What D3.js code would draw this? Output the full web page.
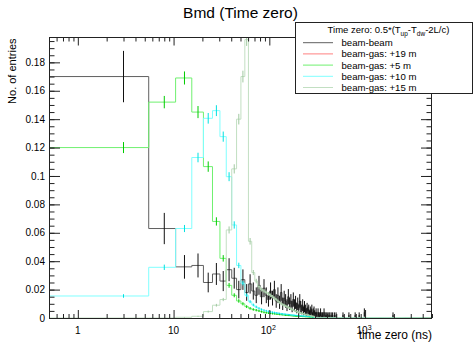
<!DOCTYPE html>
<html>
<head>
<meta charset="utf-8">
<script src="https://cdn.jsdelivr.net/npm/d3@7"></script>
<style>
  body { margin: 0; background: #fff; }
  svg { font-family: "Liberation Sans", Arial, Helvetica, sans-serif; }
</style>
</head>
<body>
<svg id="chart" width="475" height="344"></svg>
<script>
// histogram binning (ns)
var binStart = 0.5;
var binWidth = 5;
var nBins = 1000;

// bin contents, first bins from 0.5 ns on (normalised to 1)
var beamBeam = [0.170, 0.063, 0.036, 0.037, 0.025, 0.031, 0.026, 0.034, 0.028, 0.020,
  0.027, 0.018, 0.024, 0.019, 0.016, 0.023, 0.015, 0.021, 0.016, 0.013,
  0.019, 0.014, 0.020, 0.012, 0.016, 0.011, 0.018, 0.010, 0.014, 0.012,
  0.009, 0.015, 0.010, 0.012, 0.008, 0.013, 0.009, 0.011, 0.007, 0.010,
  0.006, 0.012, 0.008, 0.006, 0.009, 0.005, 0.008, 0.006, 0.004, 0.007,
  0.005, 0.006, 0.003, 0.005, 0.004, 0.006, 0.002, 0.004, 0.005, 0.003,
  0.002, 0.004, 0.002, 0, 0.004, 0.002, 0.002, 0, 0.004, 0.002,
  0, 0.002, 0.002, 0, 0.004, 0, 0.002, 0, 0.002, 0,
  0.002, 0, 0, 0.002, 0, 0.002, 0, 0, 0.002, 0,
  0, 0.002, 0, 0, 0, 0.002, 0, 0, 0, 0.002];
// isolated late entries: [bin centre, content]
var beamBeamTail = [[588, 0.002], [678, 0.002], [788, 0.002], [868, 0.002], [983, 0.004], [1958, 0.002]];

var gas19 = [];

var gas5 = [0.120, 0.152, 0.169, 0.145, 0.1066, 0.068, 0.042, 0.023, 0.016, 0.012,
  0.010, 0.008, 0.0068, 0.006, 0.0055, 0.005, 0.0045, 0.004, 0.0037, 0.0035,
  0.0033, 0.0031, 0.003, 0.0028, 0.0027, 0.0025, 0.0024, 0.0023, 0.0022, 0.002,
  0.0019, 0.0018, 0.0018, 0.0017, 0.0016, 0.0015, 0.0015, 0.0014, 0.0013, 0.0013,
  0.0012, 0.0012, 0.0011, 0.0011, 0.001, 0.001, 0.001, 0.0009, 0.0009, 0.0009,
  0.0008, 0.0008, 0.0008, 0.0007, 0.0007, 0.0007, 0.0007, 0.0006, 0.0006, 0.0006];

var gas10 = [0.0155, 0.0357, 0.063, 0.113, 0.1406, 0.146, 0.1277, 0.0995, 0.0655, 0.037,
  0.0245, 0.016, 0.0115, 0.0092, 0.0078, 0.0068, 0.006, 0.0054, 0.005, 0.0046,
  0.0043, 0.004, 0.0038, 0.0036, 0.0034, 0.0032, 0.003, 0.0029, 0.0027, 0.0026,
  0.0025, 0.0024, 0.0023, 0.0022, 0.0021, 0.002, 0.0019, 0.0018, 0.0018, 0.0017,
  0.0016, 0.0016, 0.0015, 0.0015, 0.0014, 0.0014, 0.0013, 0.0013, 0.0012, 0.0012,
  0.0011, 0.0011, 0.001, 0.001, 0.0009, 0.0009, 0.0008, 0.0008, 0.0007, 0.0007];

var gas15 = [0, 0, 0.0005, 0.0012, 0.0045, 0.009, 0.013, 0.062, 0.105, 0.140,
  0.170, 0.196, 0.054, 0.032, 0.026, 0.022, 0.020, 0.019, 0.018, 0.017,
  0.016, 0.015, 0.014, 0.013, 0.012, 0.011, 0.010, 0.0095, 0.009, 0.0085,
  0.008, 0.0075, 0.007, 0.0065, 0.006, 0.0056, 0.0052, 0.0048, 0.0045, 0.0042,
  0.004, 0.0037, 0.0035, 0.0033, 0.0031, 0.0029, 0.0027, 0.0025, 0.0024, 0.0022,
  0.002, 0.0019, 0.0018, 0.0016, 0.0015, 0.0014, 0.0013, 0.0012, 0.0011, 0.001];

// number of entries of each histogram (for the error bars)
var beamBeamEntries = 520;
var gas5Entries = 8000;
var gas10Entries = 10000;
var gas15Entries = 10000;
var gas19Entries = 1;

var legendNames = ["beam-beam", "beam-gas: +19 m", "beam-gas: +5 m", "beam-gas: +10 m", "beam-gas: +15 m"];

var xMajor = [1, 10, 100, 1000];
var yMax = 0.1975;

// ---------------------------------------------------------------
var svg = d3.select("#chart");
var padL = 49, padR = 432, padT = 37.5, padB = 318;

var x = d3.scaleLog().domain([binStart, binStart + nBins * binWidth]).range([padL, padR]);
var y = d3.scaleLinear().domain([0, yMax]).range([padB, padT]);

// full bin list for a series
function fullBins(vals, tail) {
  var out = [];
  for (var i = 0; i < nBins; i++) out.push(i < vals.length ? vals[i] : 0);
  (tail || []).forEach(function(t) {
    var k = Math.floor((t[0] - binStart) / binWidth);
    out[k] = t[1];
  });
  return out;
}

var series = [
  {name: legendNames[0], bins: fullBins(beamBeam, beamBeamTail), n: beamBeamEntries, line: "#606060", err: "#111"},
  {name: legendNames[1], bins: fullBins(gas19), n: gas19Entries, line: "#ff8080", err: "#f00", empty: true},
  {name: legendNames[2], bins: fullBins(gas5), n: gas5Entries, line: "#70f070", err: "#00cc00"},
  {name: legendNames[3], bins: fullBins(gas10), n: gas10Entries, line: "#80ffff", err: "#00e0e0"},
  {name: legendNames[4], bins: fullBins(gas15), n: gas15Entries, line: "#c2dfc2", err: "#a0c8a0"}
];

svg.append("clipPath").attr("id", "plotClip")
  .append("rect").attr("x", padL).attr("y", padT).attr("width", padR - padL).attr("height", padB - padT);

var stepLine = d3.line()
  .x(function(d) { return x(d[0]); })
  .y(function(d) { return y(d[1]); })
  .curve(d3.curveStepAfter);

var plot = svg.append("g").attr("clip-path", "url(#plotClip)");

series.forEach(function(s) {
  if (s.empty) return;
  var pts = [[binStart, 0]];
  s.bins.forEach(function(v, i) { pts.push([binStart + i * binWidth, v]); });
  pts.push([binStart + nBins * binWidth, s.bins[nBins - 1]]);
  pts.push([binStart + nBins * binWidth, 0]);

  plot.append("path")
    .attr("d", stepLine(pts))
    .attr("fill", "none")
    .attr("stroke", s.line)
    .attr("stroke-width", 1);

  var errs = s.bins.map(function(v, i) { return {c: binStart + (i + 0.5) * binWidth, v: v}; })
    .filter(function(d) { return d.v > 0; });

  plot.selectAll(null)
    .data(errs)
    .enter()
    .append("line")
    .attr("x1", function(d) { return x(d.c); })
    .attr("x2", function(d) { return x(d.c); })
    .attr("y1", function(d) { return y(d.v + Math.sqrt(d.v / s.n)); })
    .attr("y2", function(d) { return y(Math.max(0, d.v - Math.sqrt(d.v / s.n))); })
    .attr("stroke", s.err)
    .attr("stroke-width", 1);
});

// axes -------------------------------------------------------------
var yMajor = d3.range(0, 0.19, 0.02);
var yMinor = d3.range(0, yMax, 0.005);

var xMinor = [];
[0.1, 1, 10, 100, 1000].forEach(function(d) {
  for (var k = 2; k <= 9; k++) {
    var v = d * k;
    if (v > binStart && v < binStart + nBins * binWidth) xMinor.push(v);
  }
});

function noDomain(g) { g.select(".domain").remove(); g.selectAll("line").attr("stroke", "#222"); }

// left
svg.append("g").attr("transform", "translate(" + padL + ",0)")
  .call(d3.axisLeft(y).tickValues(yMinor).tickSize(-5.5).tickFormat(""))
  .call(noDomain);
svg.append("g").attr("transform", "translate(" + padL + ",0)")
  .call(d3.axisLeft(y).tickValues(yMajor).tickSize(-11).tickPadding(4)
    .tickFormat(function(d) { return d === 0 ? "0" : String(+d.toFixed(2)); }))
  .call(noDomain)
  .selectAll("text").attr("font-size", "10px").attr("fill", "#000")
  .attr("font-family", "'Liberation Sans', Arial, sans-serif");
// right
svg.append("g").attr("transform", "translate(" + padR + ",0)")
  .call(d3.axisRight(y).tickValues(yMinor).tickSize(-5.5).tickFormat(""))
  .call(noDomain);
svg.append("g").attr("transform", "translate(" + padR + ",0)")
  .call(d3.axisRight(y).tickValues(yMajor).tickSize(-11).tickFormat(""))
  .call(noDomain);

// bottom
svg.append("g").attr("transform", "translate(0," + padB + ")")
  .call(d3.axisBottom(x).tickValues(xMinor).tickSize(-4).tickFormat(""))
  .call(noDomain);
svg.append("g").attr("transform", "translate(0," + padB + ")")
  .call(d3.axisBottom(x).tickValues(xMajor).tickSize(-8).tickFormat(""))
  .call(noDomain);
// top
svg.append("g").attr("transform", "translate(0," + padT + ")")
  .call(d3.axisTop(x).tickValues(xMinor).tickSize(-4).tickFormat(""))
  .call(noDomain);
svg.append("g").attr("transform", "translate(0," + padT + ")")
  .call(d3.axisTop(x).tickValues(xMajor).tickSize(-8).tickFormat(""))
  .call(noDomain);

// log labels 1, 10, 10^2, 10^3
xMajor.forEach(function(v) {
  var p = Math.round(Math.log10(v));
  var t = svg.append("text")
    .attr("y", 334)
    .attr("font-size", "10px")
    .attr("fill", "#000");
  if (p <= 1) {
    t.attr("x", x(v)).attr("text-anchor", "middle").text(p === 0 ? "1" : "10");
  } else {
    t.attr("x", x(v) - 8.5).attr("text-anchor", "start");
    t.append("tspan").text("10");
    t.append("tspan").attr("font-size", "7px").attr("dy", "-4.5").text(p);
  }
});

// frame
svg.append("rect")
  .attr("x", padL + 0.5).attr("y", padT).attr("width", padR - padL - 1).attr("height", padB - padT + 0.5)
  .attr("fill", "none").attr("stroke", "#222").attr("stroke-width", 1);

// titles
svg.append("text")
  .attr("x", 240.5).attr("y", 18)
  .attr("text-anchor", "middle")
  .attr("font-size", "15.5px")
  .text("Bmd (Time zero)");

svg.append("text")
  .attr("x", padR).attr("y", 339)
  .attr("text-anchor", "end")
  .attr("font-size", "12px")
  .text("time zero (ns)");

svg.append("text")
  .attr("transform", "translate(16," + (padT + 1) + ") rotate(-90)")
  .attr("text-anchor", "end")
  .attr("font-size", "11px")
  .text("No. of entries");

// legend -----------------------------------------------------------
var lg = svg.append("g");
lg.append("rect")
  .attr("x", 295.5).attr("y", 22.5).attr("width", 177).attr("height", 71)
  .attr("fill", "#fff").attr("stroke", "#222").attr("stroke-width", 1);

var head = lg.append("text")
  .attr("x", 388.5).attr("y", 33)
  .attr("text-anchor", "middle")
  .attr("font-size", "9.5px");
head.append("tspan").text("Time zero: 0.5*(T");
head.append("tspan").attr("font-size", "6.5px").attr("dy", 2.5).text("up");
head.append("tspan").attr("dy", -2.5).text("-T");
head.append("tspan").attr("font-size", "6.5px").attr("dy", 2.5).text("dw");
head.append("tspan").attr("dy", -2.5).text("-2L/c)");

var item = lg.selectAll(".legend")
  .data(series)
  .enter()
  .append("g")
  .attr("class", "legend")
  .attr("transform", function(d, i) { return "translate(0," + (42.7 + i * 11.2) + ")"; });

item.append("line")
  .attr("x1", 303).attr("x2", 333)
  .attr("stroke", function(d) { return d.line; })
  .attr("stroke-width", 1);

item.append("text")
  .attr("x", 341.5).attr("y", 3.5)
  .attr("font-size", "9.6px")
  .text(function(d) { return d.name; });
</script>
</body>
</html>
